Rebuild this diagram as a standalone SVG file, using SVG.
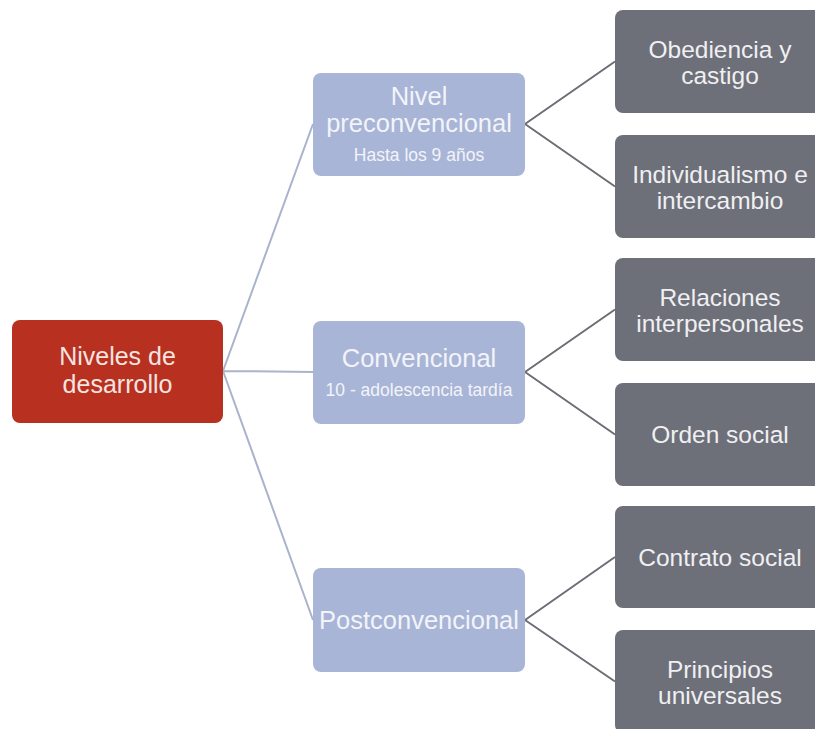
<svg xmlns="http://www.w3.org/2000/svg" width="815" height="729" viewBox="0 0 815 729">
<style>
text{font-family:"Liberation Sans",Arial,sans-serif;text-anchor:middle}
.root{fill:#b73020}
.l2{fill:#a9b5d6}
.l3{fill:#6d6f79}
.tr{fill:#f6e4e0;font-size:25px}
.t2{fill:#f2f4fa;font-size:25.5px}
.s2{fill:#f2f4fa;font-size:17.5px}
.t3{fill:#f0f0f2;font-size:24.5px}
.c1{stroke:#a9b3cc;stroke-width:2;fill:none}
.c2{stroke:#6c6e76;stroke-width:2;fill:none}
</style>
<rect width="815" height="729" fill="#ffffff"/>
<g id="connectors">
<path class="c1" d="M223 371L313 124M223 371L313 372M223 371L313 620"/>
<path class="c2" d="M525 124L615 61.5M525 124L615 186.5M525 372L615 309.5M525 372L615 434.5M525 620L615 557M525 620L615 681.5"/>
</g>
<g id="root">
<rect class="root" x="12" y="320" width="211" height="103" rx="8"/>
<text class="tr" x="117.5" y="365">Niveles de</text>
<text class="tr" x="117.5" y="393">desarrollo</text>
</g>
<g id="preconvencional">
<rect class="l2" x="313" y="73" width="212" height="103" rx="8"/>
<text class="t2" x="419" y="105">Nivel</text>
<text class="t2" x="419" y="132">preconvencional</text>
<text class="s2" x="419" y="161">Hasta los 9 años</text>
</g>
<g id="convencional">
<rect class="l2" x="313" y="321" width="212" height="103" rx="8"/>
<text class="t2" x="419" y="367">Convencional</text>
<text class="s2" x="419" y="396">10 - adolescencia tardía</text>
</g>
<g id="postconvencional">
<rect class="l2" x="313" y="568" width="212" height="104" rx="8"/>
<text class="t2" x="419" y="629">Postconvencional</text>
</g>
<g id="obediencia">
<rect class="l3" x="615" y="10" width="212" height="103" rx="8"/>
<text class="t3" x="720" y="57.5">Obediencia y</text>
<text class="t3" x="720" y="83.5">castigo</text>
</g>
<g id="individualismo">
<rect class="l3" x="615" y="135" width="212" height="103" rx="8"/>
<text class="t3" x="720" y="183">Individualismo e</text>
<text class="t3" x="720" y="209">intercambio</text>
</g>
<g id="relaciones">
<rect class="l3" x="615" y="258" width="212" height="103" rx="8"/>
<text class="t3" x="720" y="305.5">Relaciones</text>
<text class="t3" x="720" y="331.5">interpersonales</text>
</g>
<g id="orden">
<rect class="l3" x="615" y="383" width="212" height="103" rx="8"/>
<text class="t3" x="720" y="443">Orden social</text>
</g>
<g id="contrato">
<rect class="l3" x="615" y="506" width="212" height="102" rx="8"/>
<text class="t3" x="720" y="566">Contrato social</text>
</g>
<g id="principios">
<rect class="l3" x="615" y="630" width="212" height="103" rx="8"/>
<text class="t3" x="720" y="677.5">Principios</text>
<text class="t3" x="720" y="703.5">universales</text>
</g>
</svg>
